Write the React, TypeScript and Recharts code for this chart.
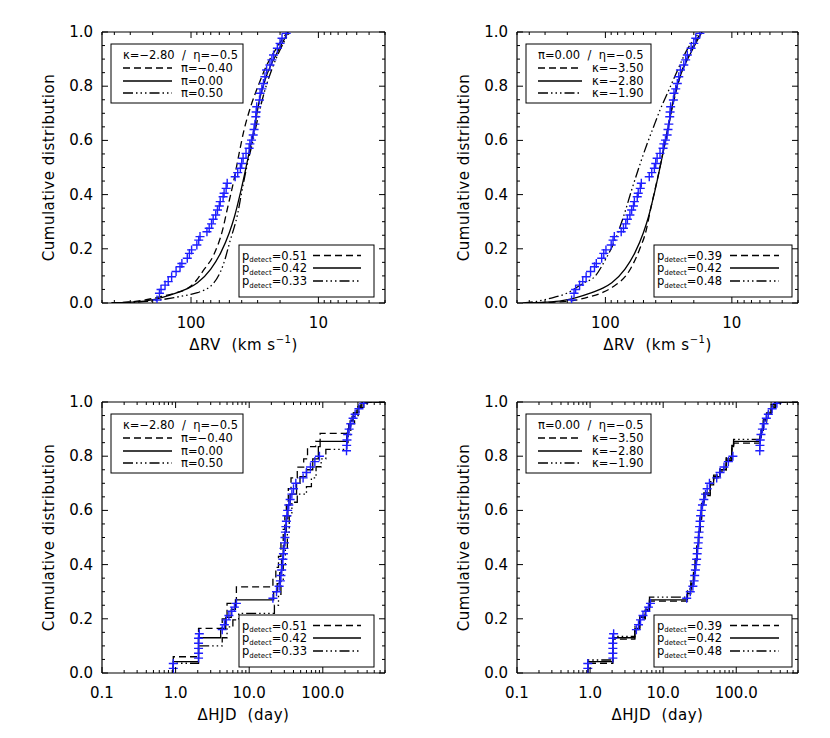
import React from 'react';
import { ComposedChart, Line, Scatter, XAxis, YAxis } from 'recharts';

type Pt = [number, number];

// observed Delta RV (km/s) vs cumulative fraction
const obsRV: Pt[] = [
  [185, 0.011], [177, 0.036], [172, 0.05], [160, 0.066], [151, 0.079], [142, 0.097], [131, 0.116],
  [122, 0.134], [118, 0.146], [107, 0.165], [103, 0.183], [99, 0.196], [90, 0.214], [87, 0.232],
  [85, 0.245], [75, 0.263], [72, 0.276], [69, 0.292], [67, 0.309], [64, 0.325], [62, 0.343],
  [60, 0.358], [59, 0.374], [56, 0.392], [55, 0.405], [53, 0.423], [52, 0.442], [45, 0.466],
  [43, 0.481], [41, 0.497], [40, 0.515], [39, 0.534], [37, 0.552], [35, 0.571], [34.5, 0.587],
  [33.5, 0.601], [32.5, 0.62], [32, 0.64], [31.5, 0.66], [31, 0.687], [30.8, 0.705], [30.5, 0.724],
  [29, 0.749], [28.7, 0.774], [27.8, 0.79], [27, 0.81], [26.3, 0.835], [25.5, 0.86], [24, 0.878],
  [23.2, 0.897], [22.5, 0.915], [21, 0.94], [20, 0.958], [19.3, 0.977], [17.9, 0.995],
];

// model curves, kappa=-2.80 pi=0.00 (p=0.42)
const rvSolid: Pt[] = [
  [420, 0], [300, 0.003], [220, 0.009], [170, 0.02], [130, 0.037], [105, 0.055], [89, 0.075],
  [70, 0.125], [58.5, 0.185], [50, 0.26], [45.5, 0.32], [41.5, 0.395], [38, 0.475], [34.8, 0.56],
  [32, 0.64], [29, 0.75], [25.7, 0.835], [21, 0.925], [17.2, 1.0],
];
// pi=-0.40 (p=0.51)
const rvPiLow: Pt[] = [
  [420, 0], [300, 0.004], [225, 0.012], [168, 0.025], [126, 0.04], [110, 0.05], [94, 0.075],
  [80, 0.12], [66, 0.18], [56.5, 0.27], [52, 0.345], [46, 0.455], [42, 0.55], [38.5, 0.635],
  [34, 0.725], [29.5, 0.805], [25.3, 0.88], [21, 0.945], [17.5, 1.0],
];
// pi=0.50 (p=0.33)
const rvPiHigh: Pt[] = [
  [420, 0], [300, 0.002], [205, 0.007], [136, 0.02], [105, 0.03], [89, 0.038], [66, 0.075],
  [55.5, 0.145], [49.3, 0.23], [43, 0.33], [39.8, 0.415], [36, 0.515], [32.6, 0.6], [29.3, 0.7],
  [26.5, 0.78], [23.3, 0.86], [20.2, 0.93], [16.8, 1.0],
];
// kappa=-3.50 (p=0.39)
const rvKapLow: Pt[] = [
  [420, 0], [250, 0.003], [175, 0.01], [133, 0.023], [104, 0.04], [87, 0.06], [64.5, 0.12],
  [54, 0.195], [47.5, 0.27], [44, 0.345], [40, 0.43], [36.5, 0.515], [33.6, 0.6], [31, 0.68],
  [28.3, 0.76], [25.5, 0.84], [21.7, 0.92], [17.4, 1.0],
];
// kappa=-1.90 (p=0.48)
const rvKapHigh: Pt[] = [
  [450, 0], [350, 0.006], [274, 0.017], [202, 0.036], [150, 0.073], [120, 0.1], [100, 0.16],
  [87, 0.215], [72, 0.318], [62, 0.417], [53, 0.515], [47, 0.585], [42, 0.645], [37, 0.712],
  [31.5, 0.786], [28, 0.84], [22.7, 0.933], [17.9, 1.0],
];

// observed Delta HJD (day) vs cumulative fraction
const obsHJD: Pt[] = [
  [0.93, 0.017], [0.93, 0.035], [2.05, 0.055], [2.05, 0.073], [2.05, 0.091], [2.05, 0.11],
  [2.05, 0.128], [2.1, 0.145], [4.3, 0.16], [4.6, 0.178], [4.9, 0.196], [5.3, 0.212], [5.8, 0.228],
  [6.3, 0.243], [6.7, 0.257], [21, 0.276], [23.5, 0.3], [25.5, 0.32], [26.5, 0.34], [27, 0.36],
  [27.6, 0.38], [28.2, 0.4], [28.7, 0.42], [29.2, 0.44], [29.7, 0.46], [30.2, 0.48], [30.6, 0.5],
  [31, 0.52], [31.5, 0.54], [32, 0.56], [32.5, 0.58], [33.3, 0.6], [34.5, 0.62], [36, 0.64],
  [38, 0.66], [40, 0.68], [43, 0.7], [54, 0.72], [60, 0.74], [68, 0.76], [78, 0.78], [90, 0.8],
  [210, 0.82], [211, 0.84], [213, 0.86], [218, 0.88], [228, 0.9], [240, 0.92], [258, 0.94],
  [275, 0.955], [310, 0.975], [360, 0.995],
];

const hjdSolid: Pt[] = [
  [0.93, 0], [0.93, 0.042], [2.05, 0.13], [4.1, 0.165], [4.8, 0.205], [5.7, 0.235], [6.5, 0.27],
  [21.5, 0.3], [24, 0.33], [26, 0.37], [27.5, 0.42], [29, 0.47], [30.5, 0.52], [32, 0.57],
  [33.5, 0.62], [36, 0.66], [44, 0.7], [49, 0.725], [60, 0.75], [73, 0.79], [87, 0.835],
  [92, 0.855], [211, 0.875], [220, 0.9], [235, 0.93], [260, 0.96], [300, 0.985], [340, 1.0], [700, 1.0],
];
const hjdPiLow: Pt[] = [
  [0.93, 0], [0.93, 0.06], [2.05, 0.165], [4.3, 0.2], [5.0, 0.257], [6.7, 0.318], [21, 0.35],
  [23, 0.39], [25, 0.43], [27, 0.48], [29, 0.53], [30.5, 0.58], [32, 0.63], [34, 0.68], [37, 0.72],
  [45, 0.76], [55, 0.79], [62, 0.835], [80, 0.855], [92, 0.884], [211, 0.9], [225, 0.93],
  [250, 0.96], [290, 0.985], [330, 1.0], [700, 1.0],
];
const hjdPiHigh: Pt[] = [
  [0.93, 0], [0.93, 0.036], [2.05, 0.1], [4.3, 0.13], [5.0, 0.17], [6.0, 0.196], [7.2, 0.22],
  [22, 0.25], [25, 0.29], [27, 0.34], [29, 0.4], [31, 0.46], [33, 0.52], [35, 0.58], [38, 0.63],
  [45, 0.66], [60, 0.688], [70, 0.72], [81, 0.761], [95, 0.79], [110, 0.825], [211, 0.85],
  [220, 0.88], [240, 0.92], [270, 0.95], [310, 0.98], [360, 1.0], [700, 1.0],
];
const hjdKapLow: Pt[] = [
  [0.93, 0], [0.93, 0.036], [2.05, 0.125], [4.1, 0.16], [4.8, 0.2], [5.7, 0.23], [6.5, 0.265],
  [21.5, 0.293], [24, 0.325], [26, 0.364], [27.5, 0.415], [29, 0.466], [30.5, 0.514], [32, 0.566],
  [33.5, 0.615], [36, 0.655], [44, 0.694], [49, 0.72], [60, 0.745], [73, 0.785], [87, 0.83],
  [92, 0.848], [211, 0.87], [220, 0.895], [235, 0.925], [260, 0.955], [300, 0.98], [345, 1.0], [700, 1.0],
];
const hjdKapHigh: Pt[] = [
  [0.93, 0], [0.93, 0.048], [2.05, 0.135], [4.1, 0.17], [4.8, 0.21], [5.7, 0.241], [6.5, 0.28],
  [21.5, 0.31], [24, 0.338], [26, 0.378], [27.5, 0.425], [29, 0.476], [30.5, 0.525], [32, 0.575],
  [33.5, 0.626], [36, 0.665], [44, 0.706], [49, 0.73], [60, 0.756], [73, 0.795], [87, 0.84],
  [92, 0.862], [211, 0.88], [220, 0.905], [235, 0.935], [260, 0.965], [300, 0.99], [335, 1.0], [700, 1.0],
];

const rvTicks = [500, 400, 300, 200, 100, 90, 80, 70, 60, 50, 40, 30, 20, 10, 9, 8, 7, 6, 5, 4, 3];
const hjdTicks = [
  0.1, 0.2, 0.3, 0.4, 0.5, 0.6, 0.7, 0.8, 0.9, 1, 2, 3, 4, 5, 6, 7, 8, 9,
  10, 20, 30, 40, 50, 60, 70, 80, 90, 100, 200, 300, 400, 500, 600, 700,
];
const cdfTicks = [
  0, 0.05, 0.1, 0.15, 0.2, 0.25, 0.3, 0.35, 0.4, 0.45, 0.5, 0.55, 0.6, 0.65, 0.7, 0.75, 0.8,
  0.85, 0.9, 0.95, 1.0,
];

const piLabels = ['\u03c0=\u22120.40', '\u03c0=0.00', '\u03c0=0.50'];
const kapLabels = ['\u03ba=\u22123.50', '\u03ba=\u22122.80', '\u03ba=\u22121.90'];
const pPi = ['0.51', '0.42', '0.33'];
const pKap = ['0.39', '0.42', '0.48'];

const FONT = '"DejaVu Sans", Verdana, sans-serif';
const BLUE = '#1f1fff';
const DASHES = ['7 4', undefined, '10 3 1.5 3 1.5 3 1.5 3'];
const W = 415;
const H = 370;

const toXY = (a: Pt[]) => a.map(([x, y]) => ({ x, y }));
const isDecade = (v: number) => {
  const l = Math.log10(v);
  return Math.abs(l - Math.round(l)) < 1e-6;
};
const isMajorCdf = (v: number) => Math.abs(v * 5 - Math.round(v * 5)) < 1e-6;

function makeTick(side: string, isMajor: (v: number) => boolean, fmt?: (v: number) => string) {
  return (p: any) => {
    const { x, y, payload } = p;
    const v = payload.value;
    const major = isMajor(v);
    const len = major ? 6 : 3;
    let x2 = x;
    let y2 = y;
    if (side === 'bottom') y2 = y - len;
    else if (side === 'top') y2 = y + len;
    else if (side === 'left') x2 = x + len;
    else x2 = x - len;
    return (
      <g>
        <line x1={x} y1={y} x2={x2} y2={y2} stroke="#000" strokeWidth={1} />
        {major && fmt && side === 'bottom' && (
          <text x={x} y={y + 25} textAnchor="middle" fontFamily={FONT} fontSize={15} fill="#000">
            {fmt(v)}
          </text>
        )}
        {major && fmt && side === 'left' && (
          <text x={x - 9} y={y + 5} textAnchor="end" fontFamily={FONT} fontSize={15} fill="#000">
            {fmt(v)}
          </text>
        )}
      </g>
    );
  };
}

const Cross = (p: any) => {
  const { cx, cy } = p;
  if (cx == null || cy == null) return <g />;
  return (
    <path
      d={`M${cx - 4.5},${cy}H${cx + 4.5}M${cx},${cy - 4.5}V${cy + 4.5}`}
      stroke={BLUE}
      strokeWidth={1.4}
      fill="none"
    />
  );
};

const YTitle = (p: any) => {
  const vb = p.viewBox;
  const cy = vb.y + vb.height / 2;
  return (
    <text x={54} y={cy} transform={`rotate(-90, 54, ${cy})`} textAnchor="middle" fontFamily={FONT}
      fontSize={15} letterSpacing={0.5} fill="#000">
      Cumulative distribution
    </text>
  );
};

const RVTitle = (p: any) => {
  const vb = p.viewBox;
  return (
    <text x={vb.x + vb.width / 2} y={vb.y + 47} textAnchor="middle" fontFamily={FONT} fontSize={15}
      letterSpacing={0.5} fill="#000" style={{ whiteSpace: 'pre' }}>
      {'\u0394RV  (km s'}
      <tspan dy={-7} fontSize={10}>{'\u22121'}</tspan>
      <tspan dy={7}>)</tspan>
    </text>
  );
};

const HJDTitle = (p: any) => {
  const vb = p.viewBox;
  return (
    <text x={vb.x + vb.width / 2} y={vb.y + 47} textAnchor="middle" fontFamily={FONT} fontSize={15}
      letterSpacing={0.5} fill="#000" style={{ whiteSpace: 'pre' }}>
      {'\u0394HJD  (day)'}
    </text>
  );
};

interface LegendProps {
  title: string;
  labels: string[];
  probs: string[];
  right: boolean;
}

function Legends({ title, labels, probs, right }: LegendProps) {
  const bx = 111;
  const bw = right ? 125 : 132;
  const lx1 = 123;
  const lx2 = right ? 167 : 172;
  const tx = right ? 177 : 181;
  const rows = [24, 37, 49];
  const lbx = 239;
  const lbw = right ? 138 : 135;
  const ll1 = right ? 315 : 313;
  const ll2 = right ? 364 : 361;
  const lrows = [10.5, 23, 36];
  const fs = 11.5;
  return (
    <svg width={W} height={H} style={{ position: 'absolute', left: 0, top: 0, pointerEvents: 'none' }}>
      <rect x={bx} y={44} width={bw} height={59} fill="#fff" stroke="#000" strokeWidth={1} />
      <text x={bx + 12} y={44 + 11 + 4} fontFamily={FONT} fontSize={fs} fill="#000" style={{ whiteSpace: 'pre' }}>
        {title}
      </text>
      {rows.map((r, i) => (
        <g key={i}>
          <line x1={lx1} x2={lx2} y1={44 + r} y2={44 + r} stroke="#000" strokeWidth={1.3} strokeDasharray={DASHES[i]} />
          <text x={tx} y={44 + r + 4} fontFamily={FONT} fontSize={fs} fill="#000">
            {labels[i]}
          </text>
        </g>
      ))}
      <rect x={lbx} y={245} width={lbw} height={52} fill="#fff" stroke="#000" strokeWidth={1} />
      {lrows.map((r, i) => (
        <g key={i}>
          <text x={lbx + 3} y={245 + r + 4} fontFamily={FONT} fontSize={fs} fill="#000">
            p<tspan dy={2.5} fontSize={7}>detect</tspan>
            <tspan dy={-2.5}>={probs[i]}</tspan>
          </text>
          <line x1={ll1} x2={ll2} y1={245 + r} y2={245 + r} stroke="#000" strokeWidth={1.3} strokeDasharray={DASHES[i]} />
        </g>
      ))}
    </svg>
  );
}

interface PanelProps {
  left: number;
  top: number;
  right: boolean;
  kind: 'rv' | 'hjd';
  obs: Pt[];
  models: Pt[][];
  title: string;
  labels: string[];
  probs: string[];
}

function Panel({ left, top, right, kind, obs, models, title, labels, probs }: PanelProps) {
  const rv = kind === 'rv';
  const domain = rv ? [3, 500] : [0.1, 700];
  const ticks = rv ? rvTicks : hjdTicks;
  const fmt = rv ? (v: number) => String(v) : (v: number) => v.toFixed(1);
  const axisLine = { stroke: '#000', strokeWidth: 1.2 };
  return (
    <div style={{ position: 'absolute', left, top, width: W, height: H }}>
      <ComposedChart width={W} height={H} margin={{ top: 31, right: right ? 31 : 29, bottom: 0, left: 0 }}>
        <XAxis xAxisId="b" dataKey="x" type="number" scale="log" domain={domain} reversed={rv}
          allowDataOverflow ticks={ticks} interval={0} tickSize={0} tickMargin={0} tickLine={false}
          axisLine={axisLine} height={67} tick={makeTick('bottom', isDecade, fmt)}
          label={rv ? RVTitle : HJDTitle} />
        <XAxis xAxisId="t" orientation="top" dataKey="x" type="number" scale="log" domain={domain}
          reversed={rv} allowDataOverflow ticks={ticks} interval={0} tickSize={0} tickMargin={0}
          tickLine={false} axisLine={axisLine} height={1} tick={makeTick('top', isDecade)} />
        <YAxis yAxisId="l" dataKey="y" type="number" domain={[0, 1]} allowDataOverflow ticks={cdfTicks}
          interval={0} tickSize={0} tickMargin={0} tickLine={false} axisLine={axisLine} width={102}
          tick={makeTick('left', isMajorCdf, (v) => v.toFixed(1))} label={YTitle} />
        <YAxis yAxisId="r" orientation="right" dataKey="y" type="number" domain={[0, 1]} allowDataOverflow
          ticks={cdfTicks} interval={0} tickSize={0} tickMargin={0} tickLine={false} axisLine={axisLine}
          width={1} tick={makeTick('right', isMajorCdf)} />
        <Scatter xAxisId="b" yAxisId="l" data={toXY(obs)} shape={Cross} isAnimationActive={false} />
        {models.map((m, i) => (
          <Line key={i} xAxisId="b" yAxisId="l" data={toXY(m)} dataKey="y" type={rv ? 'monotone' : 'stepAfter'}
            stroke="#000" strokeWidth={1.3} strokeDasharray={DASHES[i]} dot={false} activeDot={false}
            isAnimationActive={false} />
        ))}
      </ComposedChart>
      <Legends title={title} labels={labels} probs={probs} right={right} />
    </div>
  );
}

export default function App() {
  const t1 = '\u03ba=\u22122.80  /  \u03b7=\u22120.5';
  const t2 = '\u03c0=0.00  /  \u03b7=\u22120.5';
  return (
    <div style={{ position: 'absolute', left: 0, top: 0, width: 830, height: 738, background: '#fff' }}>
      <Panel left={0} top={0} right={false} kind="rv" obs={obsRV} models={[rvPiLow, rvSolid, rvPiHigh]}
        title={t1} labels={piLabels} probs={pPi} />
      <Panel left={415} top={0} right kind="rv" obs={obsRV} models={[rvKapLow, rvSolid, rvKapHigh]}
        title={t2} labels={kapLabels} probs={pKap} />
      <Panel left={0} top={370} right={false} kind="hjd" obs={obsHJD} models={[hjdPiLow, hjdSolid, hjdPiHigh]}
        title={t1} labels={piLabels} probs={pPi} />
      <Panel left={415} top={370} right kind="hjd" obs={obsHJD} models={[hjdKapLow, hjdSolid, hjdKapHigh]}
        title={t2} labels={kapLabels} probs={pKap} />
    </div>
  );
}
